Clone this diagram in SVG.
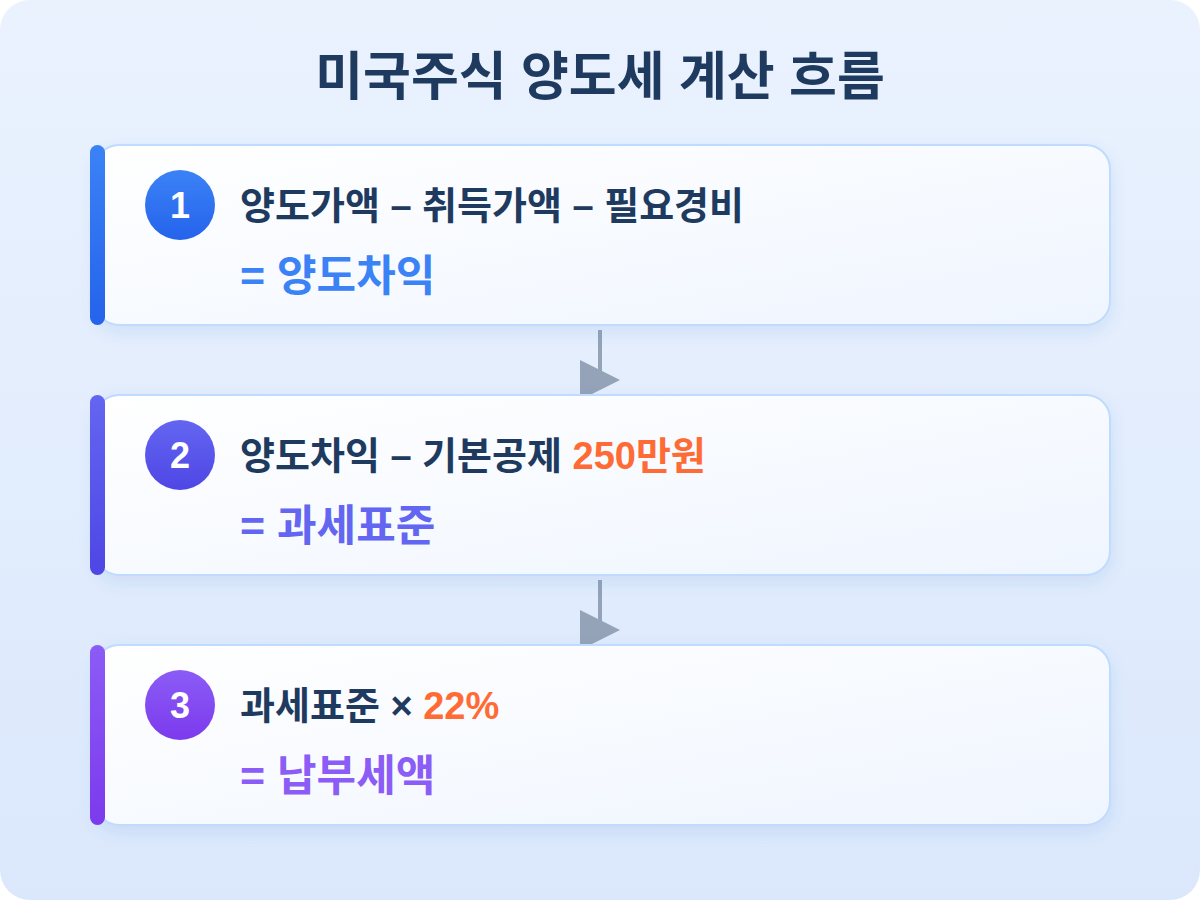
<svg xmlns="http://www.w3.org/2000/svg" width="1200" height="900" viewBox="0 0 1200 900">
  <defs>
    <linearGradient id="bg" x1="0" y1="0" x2="0" y2="1">
      <stop offset="0" stop-color="#eaf2fe"/>
      <stop offset="1" stop-color="#dbe8fc"/>
    </linearGradient>
    <linearGradient id="card" x1="0" y1="0" x2="1" y2="1">
      <stop offset="0" stop-color="#ffffff"/>
      <stop offset="1" stop-color="#eff5ff"/>
    </linearGradient>
    <linearGradient id="g1" x1="0" y1="0" x2="0" y2="1">
      <stop offset="0" stop-color="#3b82f6"/>
      <stop offset="1" stop-color="#2563eb"/>
    </linearGradient>
    <linearGradient id="g2" x1="0" y1="0" x2="0" y2="1">
      <stop offset="0" stop-color="#6366f1"/>
      <stop offset="1" stop-color="#4f46e5"/>
    </linearGradient>
    <linearGradient id="g3" x1="0" y1="0" x2="0" y2="1">
      <stop offset="0" stop-color="#8b5cf6"/>
      <stop offset="1" stop-color="#7c3aed"/>
    </linearGradient>
    <filter id="shadow" x="-10%" y="-20%" width="120%" height="150%">
      <feDropShadow dx="0" dy="6" stdDeviation="8" flood-color="#3b6fc4" flood-opacity="0.12"/>
    </filter>
    <marker id="arrow" markerWidth="10" markerHeight="10" refX="5" refY="5" orient="0" markerUnits="strokeWidth">
      <path d="M0,0 L10,5 L0,10 z" fill="#94a3b8"/>
    </marker>
    <style>
      .card { fill: url(#card); stroke: #bfdbfe; stroke-width: 2; filter: url(#shadow); }
      .num { font-family: "Liberation Sans", Arial, sans-serif; font-weight: 700; font-size: 36px; fill: #ffffff; text-anchor: middle; }
      .l1 { font-family: "Liberation Sans", "Noto Sans CJK KR", sans-serif; font-weight: 700; font-size: 38px; fill: #1e3a5f; }
      .l2 { font-family: "Liberation Sans", "Noto Sans CJK KR", sans-serif; font-weight: 700; font-size: 43px; }
      .hl { fill: #ff6b35; }
      .title { font-family: "Liberation Sans", "Noto Sans CJK KR", sans-serif; font-weight: 700; font-size: 52px; fill: #1e3a5f; text-anchor: middle; }
      .conn { stroke: #94a3b8; stroke-width: 4; fill: none; }
    </style>
  </defs>

  <rect x="0" y="0" width="1200" height="900" fill="#ffffff"/>
  <rect x="0" y="0" width="1200" height="900" rx="30" fill="url(#bg)"/>

  <text id="title" class="title" x="600" y="95">미국주식 양도세 계산 흐름</text>

  <g id="connectors">
    <line class="conn" x1="600" y1="330" x2="600" y2="380" marker-end="url(#arrow)"/>
    <line class="conn" x1="600" y1="580" x2="600" y2="630" marker-end="url(#arrow)"/>
  </g>

  <g id="step1">
    <rect class="card" x="95" y="145" width="1015" height="180" rx="24"/>
    <rect x="90" y="145" width="15" height="180" rx="7.5" fill="url(#g1)"/>
    <circle cx="180" cy="205" r="35" fill="url(#g1)"/>
    <text class="num" x="180" y="218">1</text>
    <text class="l1" x="240" y="219">양도가액 – 취득가액 – 필요경비</text>
    <text class="l2" x="240" y="291" fill="#3b82f6">= 양도차익</text>
  </g>

  <g id="step2">
    <rect class="card" x="95" y="395" width="1015" height="180" rx="24"/>
    <rect x="90" y="395" width="15" height="180" rx="7.5" fill="url(#g2)"/>
    <circle cx="180" cy="455" r="35" fill="url(#g2)"/>
    <text class="num" x="180" y="468">2</text>
    <text class="l1" x="240" y="469">양도차익 – 기본공제 <tspan class="hl">250만원</tspan></text>
    <text class="l2" x="240" y="541" fill="#6366f1">= 과세표준</text>
  </g>

  <g id="step3">
    <rect class="card" x="95" y="645" width="1015" height="180" rx="24"/>
    <rect x="90" y="645" width="15" height="180" rx="7.5" fill="url(#g3)"/>
    <circle cx="180" cy="705" r="35" fill="url(#g3)"/>
    <text class="num" x="180" y="718">3</text>
    <text class="l1" x="240" y="719">과세표준 × <tspan class="hl">22%</tspan></text>
    <text class="l2" x="240" y="791" fill="#8b5cf6">= 납부세액</text>
  </g>
</svg>
